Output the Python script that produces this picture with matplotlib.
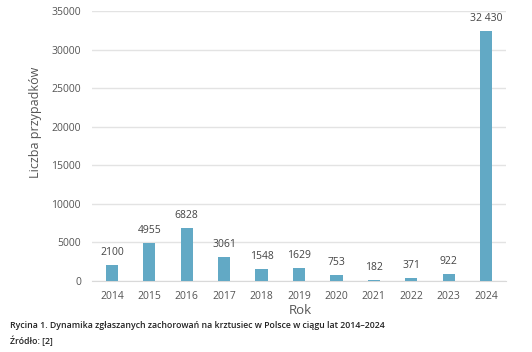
import matplotlib
matplotlib.use("Agg")
import matplotlib.pyplot as plt

years = ["2014", "2015", "2016", "2017", "2018", "2019", "2020", "2021", "2022", "2023", "2024"]
cases = [2100, 4955, 6828, 3061, 1548, 1629, 753, 182, 371, 922, 32430]
labels = ["2100", "4955", "6828", "3061", "1548", "1629", "753", "182", "371", "922", "32 430"]
yticks = [0, 5000, 10000, 15000, 20000, 25000, 30000, 35000]

plt.rcParams['font.family'] = ['Open Sans', 'DejaVu Sans']

fig = plt.figure(figsize=(5.32, 3.52), dpi=100)
ax = fig.add_axes([92/532, 1-281/352, (506-92)/532, (281-11)/352])

x = list(range(len(years)))
ax.bar(x, cases, width=0.33, color="#62A9C5", zorder=3)
for xi, v, lab in zip(x, cases, labels):
    ax.text(xi, v + 900, lab, ha="center", va="bottom", fontsize=7.5, color="#444444")

ax.set_xlim(-0.53, 10.53)
ax.set_ylim(0, 35000)
ax.set_yticks(yticks)
ax.set_yticklabels([str(t) for t in yticks])
ax.set_xticks(x)
ax.set_xticklabels(years)
ax.grid(axis="y", color="#e3e3e3", linewidth=1, zorder=0)
for s in ["top", "right", "left"]:
    ax.spines[s].set_visible(False)
ax.spines["bottom"].set_color("#d9d9d9")
ax.tick_params(axis="both", length=0, labelsize=7.5, labelcolor="#555555")
ax.tick_params(axis="x", pad=7)
ax.tick_params(axis="y", pad=8)

fig.text(300/532, 1-310/352, "Rok", ha="center", va="center", fontsize=9.5, color="#555555")
fig.text(36/532, 1-122/352, "Liczba przypadków", ha="center", va="center", rotation=90, fontsize=9, color="#555555")

fig.text(10/532, 1-326/352, "Rycina 1. Dynamika zgłaszanych zachorowań na krztusiec w Polsce w ciągu lat 2014–2024",
         ha="left", va="center", fontsize=6.3, color="#222222", fontweight="semibold")
fig.text(10/532, 1-341/352, "Źródło: [2]", ha="left", va="center", fontsize=6.3, color="#222222", fontweight="semibold")

fig.savefig("out.png", dpi=100)
